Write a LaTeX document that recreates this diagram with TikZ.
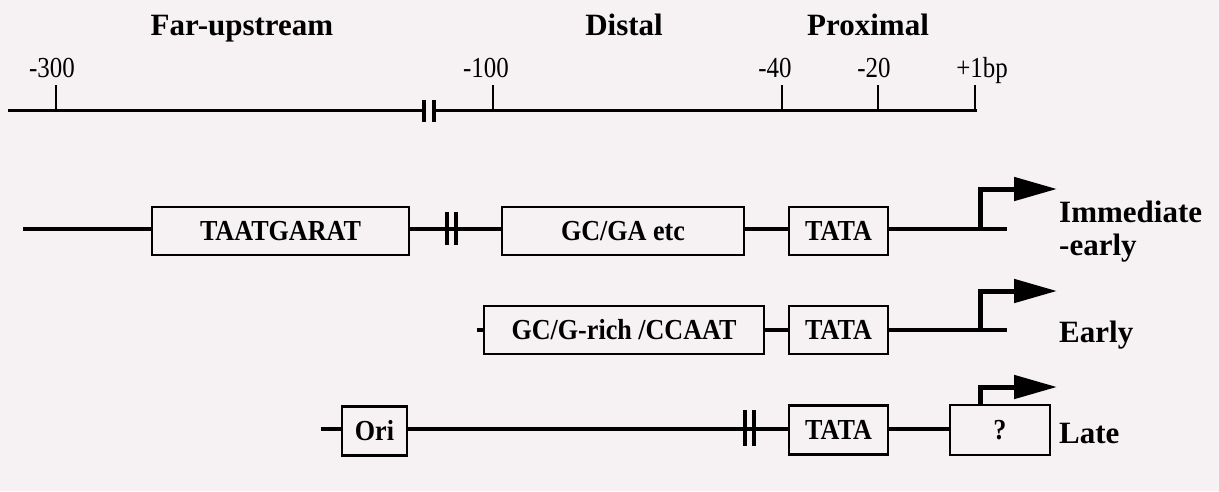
\documentclass[tikz,border=0pt]{standalone}
\usepackage{fontspec}
\setmainfont{Liberation Serif}
\newfontfamily\condfont{Liberation Serif}[FakeStretch=0.86]
\newfontfamily\boxfont{Liberation Serif}[FakeStretch=0.9]
\usetikzlibrary{arrows.meta}
\definecolor{paper}{RGB}{246,242,243}
\begin{document}
\begin{tikzpicture}[x=1pt,y=-1pt,
  hdr/.style={font=\bfseries\fontsize{31}{31}\selectfont, inner sep=0pt, anchor=base},
  rowlbl/.style={font=\bfseries\fontsize{31}{31}\selectfont, inner sep=0pt, anchor=base west},
  ticklbl/.style={font=\condfont\fontsize{29}{29}\selectfont, inner sep=0pt, anchor=base},
  elem/.style={draw, line width=2.8pt, font=\boxfont\bfseries\fontsize{29}{29}\selectfont, inner sep=0pt},
  dna/.style={line width=4.5pt},
  ruler/.style={line width=3pt},
  tickmark/.style={line width=2.8pt},
  brk/.style={line width=4pt},
  tss/.style={line width=5pt, -{Triangle[length=43pt,width=23pt]}}
]
\useasboundingbox[fill=paper] (0,0) rectangle (1219,491);

% headers
\node[hdr] (far) at (242,35) {Far-upstream};
\node[hdr] (dist) at (624,35) {Distal};
\node[hdr] (prox) at (868,35) {Proximal};

% ruler
\coordinate (rA) at (8,110);
\coordinate (rB1) at (424,110);
\coordinate (rB2) at (434,110);
\coordinate (rC) at (977,110);
\draw[ruler] (rA) -- (rB1);
\draw[ruler] (rB2) -- (rC);
\draw[brk] (424,100) -- (424,122);
\draw[brk] (434,100) -- (434,122);
\foreach \x in {56, 493, 782, 878, 975} {
  \draw[tickmark] (\x,110) -- (\x,85);
}
\node[ticklbl] (t300) at (52,77) {-300};
\node[ticklbl] (t100) at (486,77) {-100};
\node[ticklbl] (t40) at (775,77) {-40};
\node[ticklbl] (t20) at (874,77) {-20};
\node[ticklbl] (t1) at (982,77) {+1bp};

% row 1: immediate-early
\node[elem, minimum width=257pt, minimum height=48pt] (taat) at (280.5,231) {TAATGARAT};
\node[elem, minimum width=242pt, minimum height=48pt] (gcga) at (623,231) {GC/GA etc};
\node[elem, minimum width=99pt, minimum height=48pt] (tata1) at (838.5,231) {TATA};
\coordinate (r1s) at (23,229);
\coordinate (r1e) at (1007,229);
\coordinate (s1) at (980,229);
\coordinate (a1) at (1057,189);
\draw[dna] (r1s) -- (taat.west |- r1s);
\draw[dna] (taat.east |- r1s) -- (gcga.west |- r1s);
\draw[dna] (gcga.east |- r1s) -- (tata1.west |- r1s);
\draw[dna] (tata1.east |- r1s) -- (r1e);
\draw[brk, line width=4.5pt] (447,212) -- (447,245);
\draw[brk, line width=4.5pt] (456,212) -- (456,245);
\draw[tss] (s1) |- (a1);
\node[rowlbl] (ie1) at (1059,222) {Immediate};
\node[rowlbl] (ie2) at (1059,255) {-early};

% row 2: early
\node[elem, minimum width=280pt, minimum height=48pt] (gcg) at (624,330) {GC/G-rich /CCAAT};
\node[elem, minimum width=99pt, minimum height=48pt] (tata2) at (838.5,330) {TATA};
\coordinate (r2s) at (477,330);
\coordinate (r2e) at (1007,330);
\coordinate (s2) at (980,330);
\coordinate (a2) at (1057,291);
\draw[dna] (r2s) -- (gcg.west);
\draw[dna] (gcg.east) -- (tata2.west);
\draw[dna] (tata2.east) -- (r2e);
\draw[tss] (s2) |- (a2);
\node[rowlbl] (early) at (1059,342) {Early};

% row 3: late
\node[elem, minimum width=65pt, minimum height=49pt] (ori) at (374.5,431) {Ori};
\node[elem, minimum width=99pt, minimum height=49pt] (tata3) at (838.5,430) {TATA};
\node[elem, minimum width=100pt, minimum height=50pt] (q) at (1000,430) {?};
\coordinate (r3s) at (321,429);
\draw[dna] (r3s) -- (ori.west |- r3s);
\draw[dna] (ori.east |- r3s) -- (tata3.west |- r3s);
\draw[dna] (tata3.east |- r3s) -- (q.west |- r3s);
\draw[brk, line width=4.5pt] (745,410) -- (745,446);
\draw[brk, line width=4.5pt] (754,410) -- (754,446);
\coordinate (a3) at (1057,387);
\draw[tss] (q.north -| 980,0) |- (a3);
\node[rowlbl] (late) at (1059,443) {Late};
\end{tikzpicture}
\end{document}
